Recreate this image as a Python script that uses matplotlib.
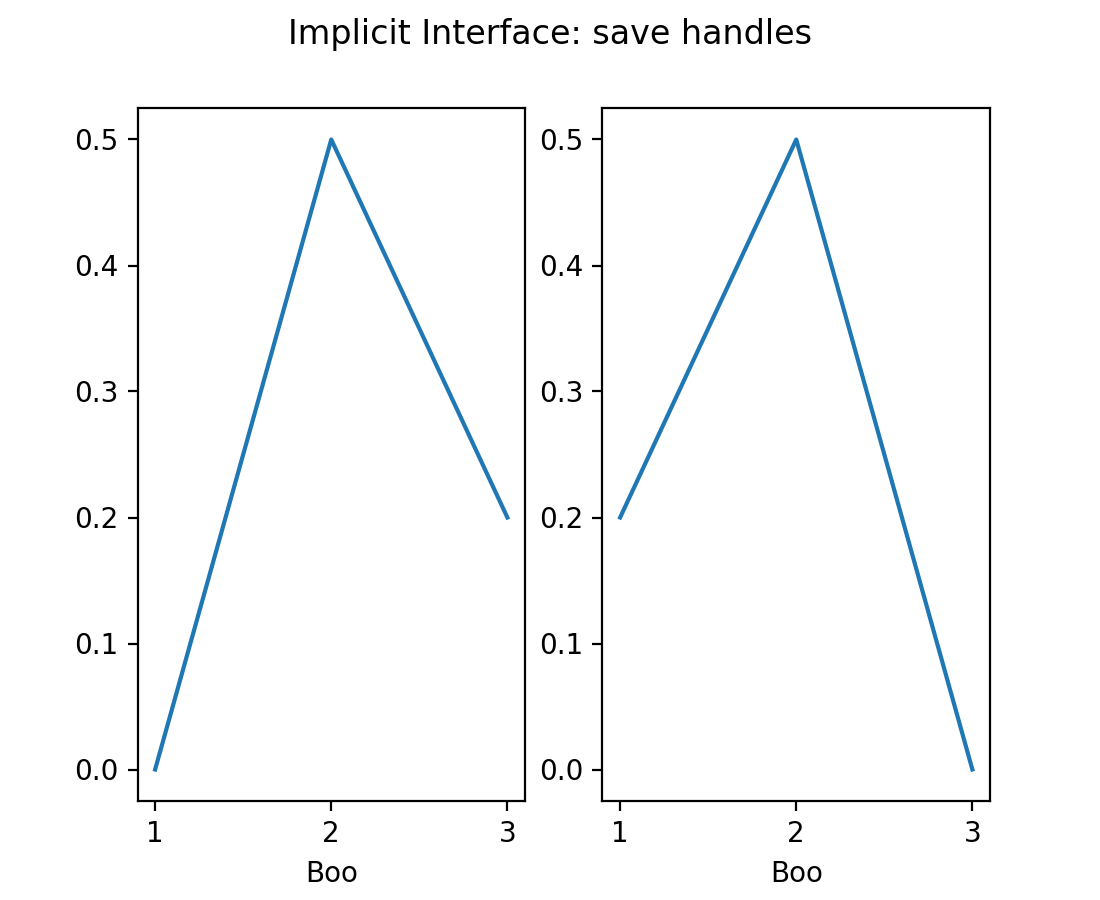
import matplotlib
matplotlib.use('Agg')
import matplotlib.pyplot as plt

x = [1, 2, 3]
y_left = [0, 0.5, 0.2]
y_right = [0.2, 0.5, 0]
xlabel = 'Boo'
title = 'Implicit Interface: save handles'

fig, (ax1, ax2) = plt.subplots(1, 2, figsize=(5.5, 4.5), dpi=200)

ax1.plot(x, y_left)
ax1.set_xlabel(xlabel)

ax2.plot(x, y_right)
ax2.set_xlabel(xlabel)

fig.suptitle(title)

fig.savefig('out.png')
plt.close(fig)
